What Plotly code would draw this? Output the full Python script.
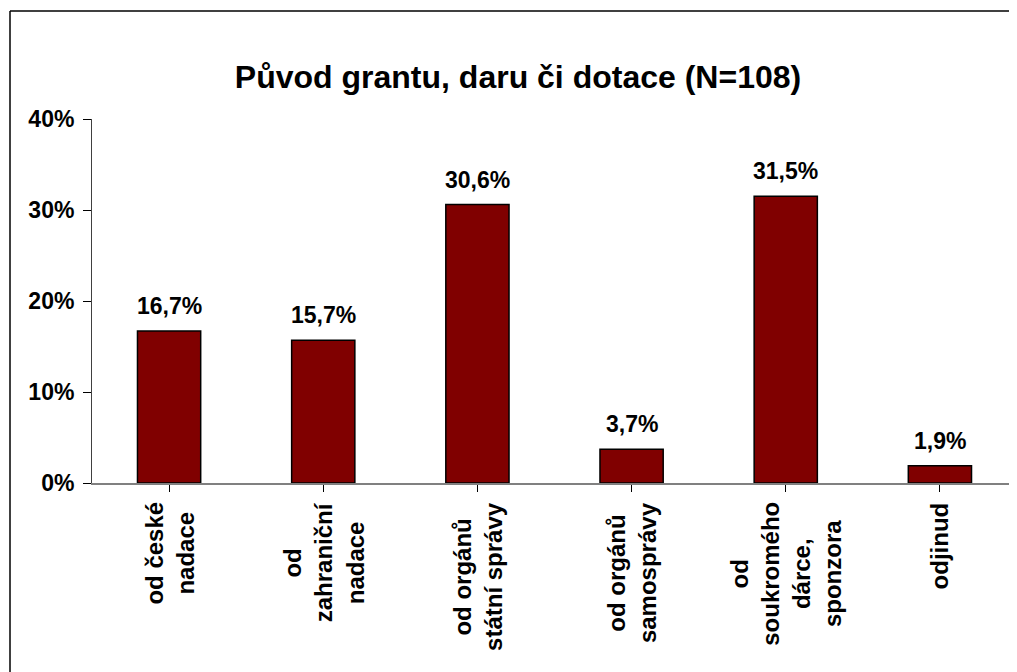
import plotly.graph_objects as go

categories = ["od české<br>nadace", "od<br>zahraniční<br>nadace", "od orgánů<br>státní správy",
              "od orgánů<br>samosprávy", "od<br>soukromého<br>dárce,<br>sponzora", "odjinud"]
values = [16.7, 15.7, 30.6, 3.7, 31.5, 1.9]
value_labels = ["16,7%", "15,7%", "30,6%", "3,7%", "31,5%", "1,9%"]
y_ticks = [0, 10, 20, 30, 40]
y_tick_labels = ["0%", "10%", "20%", "30%", "40%"]
title_text = "Původ grantu, daru či dotace (N=108)"

FONT = "Arial, 'Liberation Sans', sans-serif"
OFF = 8  # default page body margin
W, H = 1017 - OFF, 672 - OFF
ML, MR, MT, MB = 92 - OFF, 0, 119 - OFF, 189
pw, ph = W - ML - MR, H - MT - MB

xs = list(range(len(categories)))

fig = go.Figure()
fig.add_trace(go.Bar(
    x=xs, y=values, width=0.41,
    marker=dict(color="#800000", line=dict(color="#000000", width=1.5)),
    hoverinfo="skip",
))

annotations = []
for x, v, lab in zip(xs, values, value_labels):
    annotations.append(dict(x=x, y=v, xref="x", yref="y", text="<b>" + lab + "</b>", showarrow=False,
                            yanchor="bottom", xanchor="center", yshift=10,
                            font=dict(family=FONT, size=23, color="#000000")))
for x, cat in zip(xs, categories):
    annotations.append(dict(x=x, y=0, xref="x", yref="y", text="<b>" + cat + "</b>", showarrow=False,
                            textangle=-90, yanchor="top", xanchor="center", align="center",
                            yshift=-17,
                            font=dict(family=FONT, size=24, color="#000000")))

bx = (10 - 92) / pw
by = 1 + (119 - 11) / ph
fig.update_layout(
    width=W, height=H,
    margin=dict(l=ML, r=MR, t=MT, b=MB, pad=0),
    paper_bgcolor="#ffffff", plot_bgcolor="#ffffff",
    showlegend=False,
    title=dict(text="<b>" + title_text + "</b>", x=(518 - OFF) / W, xanchor="center",
               y=1 - (77 - OFF) / H, yanchor="middle", yref="container",
               font=dict(family=FONT, size=32, color="#000000")),
    xaxis=dict(range=[-0.5, len(xs) - 0.5], tickmode="array", tickvals=xs,
               showticklabels=False, tickson="boundaries", ticks="outside", ticklen=7,
               tickcolor="#000000", tickwidth=1,
               showline=True, linecolor="#808080", linewidth=1.5, showgrid=False, zeroline=False),
    yaxis=dict(range=[0, 40], tickmode="array", tickvals=y_ticks, ticktext=y_tick_labels,
               ticks="outside", ticklen=8, tickcolor="#000000", tickwidth=1,
               showline=True, linecolor="#404040", linewidth=1, showgrid=False, zeroline=False,
               ticklabelstandoff=4,
               tickfont=dict(family=FONT, size=23, color="#000000", weight="bold")),
    annotations=annotations,
    shapes=[
        dict(type="line", xref="paper", yref="paper", x0=bx, x1=bx, y0=-1.0, y1=by,
             line=dict(color="#000000", width=1.5), layer="below"),
        dict(type="line", xref="paper", yref="paper", x0=bx, x1=1.5, y0=by, y1=by,
             line=dict(color="#000000", width=1.5), layer="below"),
    ],
)

fig.write_html("out.html")
